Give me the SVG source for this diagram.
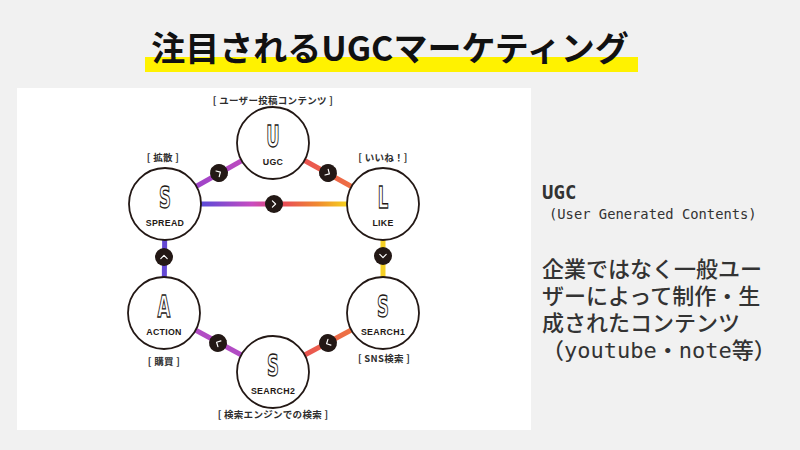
<svg xmlns="http://www.w3.org/2000/svg" width="800" height="450" viewBox="0 0 800 450">
<defs>
<style>
.node{fill:#fff;stroke:#231815;stroke-width:1.8}
.big{font-family:"DejaVu Sans",sans-serif;font-weight:bold;font-size:30px;fill:#fff;stroke:#231815;stroke-width:1.4;text-anchor:middle}
.nl{font-family:"Liberation Sans",Arial,sans-serif;font-weight:bold;font-size:8.8px;fill:#231815;text-anchor:middle;letter-spacing:0.3px}
.br{font-family:"Noto Sans CJK JP",sans-serif;font-weight:700;font-size:9.5px;fill:#2e2e2e;text-anchor:middle;letter-spacing:0.3px}
.ln{fill:none;stroke-width:5}
.bd{fill:#231815}
.ch{fill:none;stroke:#fff;stroke-width:1.2;stroke-linecap:round;stroke-linejoin:round}
.jp{font-family:"DejaVu Sans Mono","Noto Sans CJK JP",monospace;font-weight:500;font-size:22px;fill:#333}
.mono{font-family:"DejaVu Sans Mono",monospace;fill:#333}
</style>
<linearGradient id="gSU" gradientUnits="userSpaceOnUse" x1="165" y1="204" x2="273" y2="143"><stop offset="0" stop-color="#8a3fd0"/><stop offset="1" stop-color="#d04fb8"/></linearGradient>
<linearGradient id="gUL" gradientUnits="userSpaceOnUse" x1="273" y1="143" x2="383" y2="204"><stop offset="0" stop-color="#e8425a"/><stop offset="1" stop-color="#f0823a"/></linearGradient>
<linearGradient id="gS1S2" gradientUnits="userSpaceOnUse" x1="383" y1="313" x2="273" y2="372"><stop offset="0" stop-color="#f0883a"/><stop offset="1" stop-color="#e8405a"/></linearGradient>
<linearGradient id="gSL" gradientUnits="userSpaceOnUse" x1="201" y1="204" x2="347" y2="204"><stop offset="0" stop-color="#5a4ad8"/><stop offset="0.35" stop-color="#c84cc0"/><stop offset="0.55" stop-color="#e8485a"/><stop offset="0.8" stop-color="#f08a30"/><stop offset="1" stop-color="#f6d21e"/></linearGradient>
<polyline id="chev" class="ch" points="-1.6,-3.2 1.6,0 -1.6,3.2"/>
</defs>
<rect width="800" height="450" fill="#f1f1f1"/>
<rect x="17" y="88" width="514" height="342" fill="#fff"/>
<rect x="145" y="57" width="493" height="15" fill="#fff200"/>
<text x="390" y="61" text-anchor="middle" font-family="'Noto Sans CJK JP',sans-serif" font-weight="700" font-size="34" fill="#111">注目されるUGCマーケティング</text>

<g id="connectors">
<line class="ln" x1="165" y1="204" x2="273" y2="143" stroke="url(#gSU)"/>
<line class="ln" x1="273" y1="143" x2="383" y2="204" stroke="url(#gUL)"/>
<line class="ln" x1="383" y1="204" x2="383" y2="313" stroke="#f5d024"/>
<line class="ln" x1="383" y1="313" x2="273" y2="372" stroke="url(#gS1S2)"/>
<line class="ln" x1="273" y1="372" x2="164" y2="313" stroke="#b24cc4"/>
<line class="ln" x1="164" y1="313" x2="165" y2="204" stroke="#6448d4"/>
<line class="ln" x1="201" y1="204" x2="347" y2="204" stroke="url(#gSL)"/>
<g transform="translate(219,173) rotate(-30)"><circle class="bd" r="9"/><use href="#chev"/></g>
<g transform="translate(328,173) rotate(30)"><circle class="bd" r="9"/><use href="#chev"/></g>
<g transform="translate(383,256) rotate(90)"><circle class="bd" r="9"/><use href="#chev"/></g>
<g transform="translate(328,343) rotate(152)"><circle class="bd" r="9"/><use href="#chev"/></g>
<g transform="translate(218,343) rotate(208)"><circle class="bd" r="9"/><use href="#chev"/></g>
<g transform="translate(164,257) rotate(-90)"><circle class="bd" r="9"/><use href="#chev"/></g>
<g transform="translate(274,204)"><circle class="bd" r="9"/><use href="#chev"/></g>
</g>

<g id="ugc" transform="translate(273,143)">
<circle class="node" r="36"/>
<text class="big" transform="scale(0.55,1)" y="4">U</text>
<text class="nl" y="22">UGC</text>
<text class="br" y="-39">[ ユーザー投稿コンテンツ ]</text>
</g>
<g id="spread" transform="translate(165,204)">
<circle class="node" r="36"/>
<text class="big" transform="scale(0.55,1)" y="4">S</text>
<text class="nl" y="22">SPREAD</text>
<text class="br" x="-2" y="-43">[ 拡散 ]</text>
</g>
<g id="like" transform="translate(383,204)">
<circle class="node" r="36"/>
<text class="big" transform="scale(0.55,1)" y="4">L</text>
<text class="nl" y="22">LIKE</text>
<text class="br" y="-43">[ いいね！]</text>
</g>
<g id="action" transform="translate(164,313)">
<circle class="node" r="36"/>
<text class="big" transform="scale(0.55,1)" y="4">A</text>
<text class="nl" y="22">ACTION</text>
<text class="br" y="52">[ 購買 ]</text>
</g>
<g id="search1" transform="translate(383,313)">
<circle class="node" r="36"/>
<text class="big" transform="scale(0.55,1)" y="4">S</text>
<text class="nl" y="22">SEARCH1</text>
<text class="br" x="1" y="49">[ SNS検索 ]</text>
</g>
<g id="search2" transform="translate(273,372)">
<circle class="node" r="36"/>
<text class="big" transform="scale(0.55,1)" y="4">S</text>
<text class="nl" y="22">SEARCH2</text>
<text class="br" y="46">[ 検索エンジンでの検索 ]</text>
</g>

<g id="desc">
<text class="mono" x="542" y="199" font-size="19" font-weight="bold">UGC</text>
<text class="mono" x="549" y="219" font-size="13.8">(User Generated Contents)</text>
<text class="jp" x="542" y="277">企業ではなく一般ユー</text>
<text class="jp" x="542" y="304">ザーによって制作・生</text>
<text class="jp" x="542" y="331">成されたコンテンツ</text>
<text class="jp" x="542" y="358">（youtube・note等）</text>
</g>
</svg>
